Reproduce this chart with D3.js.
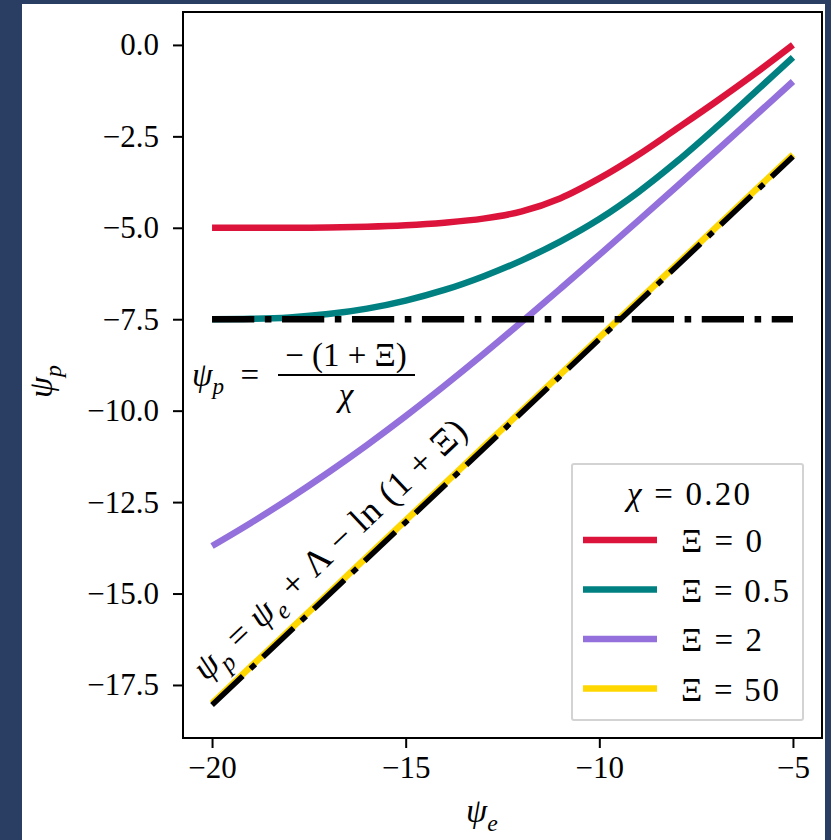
<!DOCTYPE html>
<html><head><meta charset="utf-8">
<script src="https://cdn.jsdelivr.net/npm/d3@7"></script>
<style>body{margin:0;background:#2a3d62;} svg{display:block;}</style>
</head><body>
<svg id="c" width="831" height="840"></svg>
<script>
// ---- data ----
const psiE = [-20,-19,-18,-17,-16,-15,-14,-13,-12,-11,-10,-9,-8,-7,-6,-5];
const xi0   = [-5.00,-5.00,-5.00,-4.99,-4.97,-4.93,-4.86,-4.75,-4.55,-4.19,-3.65,-3.01,-2.29,-1.56,-0.80,0.00];
const xi05  = [-7.50,-7.49,-7.45,-7.36,-7.21,-6.99,-6.70,-6.33,-5.89,-5.37,-4.76,-4.03,-3.19,-2.27,-1.31,-0.34];
const xi2   = [-13.70,-13.07,-12.40,-11.69,-10.94,-10.15,-9.32,-8.46,-7.57,-6.66,-5.74,-4.81,-3.87,-2.92,-1.96,-1.00];
const xi50  = [-18,-17,-16,-15,-14,-13,-12,-11,-10,-9,-8,-7,-6,-5,-4,-3];
const horizX = [-20,-5], horizY = [-7.5,-7.5];
const diagX = [-20,-5], diagY = [-18.05,-3.05];
const xTicks = [-20,-15,-10,-5];
const yTicks = [0,-2.5,-5,-7.5,-10,-12.5,-15,-17.5];
const legendLabels = ["0","0.5","2","50"];
const colors = ["#dc143c","#008080","#9370db","#ffd700"];
const series = [xi0, xi05, xi2, xi50];

const svg = d3.select("#c");
const FONT = "'Liberation Serif', 'DejaVu Serif', serif";
svg.append("rect").attr("x",22).attr("y",4).attr("width",803).attr("height",836).attr("fill","#ffffff");

const x = d3.scaleLinear().domain([-20.75,-4.25]).range([183,822]);
const y = d3.scaleLinear().domain([-18.95,0.9]).range([738,12]);

const fmtMinus = s => s.replace("-","\u2212");

// axes
const gx = svg.append("g").attr("transform","translate(0,738)")
  .call(d3.axisBottom(x).tickValues(xTicks).tickSize(10).tickPadding(8).tickFormat(d=>fmtMinus(String(d))));
const gy = svg.append("g").attr("transform","translate(183,0)")
  .call(d3.axisLeft(y).tickValues(yTicks).tickSize(10).tickPadding(14).tickFormat(d=>fmtMinus(d3.format(".1f")(d))));
[gx,gy].forEach(g=>{
  g.select(".domain").remove();
  g.selectAll(".tick line").attr("stroke","#000").attr("stroke-width",2);
  g.selectAll(".tick text").attr("font-family",FONT).attr("font-size",31).attr("fill","#000");
});

// rich text helper
function rich(parent, segs, size, attrs){
  const t = parent.append("text").attr("font-family",FONT).attr("font-size",size).attr("fill","#000");
  Object.entries(attrs||{}).forEach(([k,v])=>t.attr(k,v));
  let shift = 0;
  segs.forEach(s=>{
    const ts = t.append("tspan").text(s.t);
    if (s.i) ts.attr("font-style","italic");
    const target = s.sub ? size*0.25 : 0;
    if (target !== shift){ ts.attr("dy", target-shift); shift = target; }
    if (s.sub) ts.attr("font-size", size*0.7);
  });
  return t;
}

svg.append("clipPath").attr("id","clp").append("rect")
  .attr("x",183).attr("y",12).attr("width",639).attr("height",726);
const plot = svg.append("g").attr("clip-path","url(#clp)");

const line = d3.line().x(d=>x(d[0])).y(d=>y(d[1])).curve(d3.curveCatmullRom.alpha(0.5));

series.forEach((s,i)=>{
  plot.append("path").datum(psiE.map((e,j)=>[e,s[j]]))
    .attr("d",line).attr("fill","none").attr("stroke",colors[i]).attr("stroke-width",6.5);
});

const dashLw = 6.6;
const dashArr = [6.4,1.6,1,1.6].map(v=>v*dashLw).join(",");
plot.append("path").datum(horizX.map((e,j)=>[e,horizY[j]]))
  .attr("d",d3.line().x(d=>x(d[0])).y(d=>y(d[1]))).attr("fill","none")
  .attr("stroke","#000").attr("stroke-width",dashLw).attr("stroke-dasharray",dashArr);
plot.append("path").datum(diagX.map((e,j)=>[e,diagY[j]]))
  .attr("d",d3.line().x(d=>x(d[0])).y(d=>y(d[1]))).attr("fill","none")
  .attr("stroke","#000").attr("stroke-width",5.5).attr("stroke-dasharray",dashArr);

// frame
svg.append("rect").attr("x",183).attr("y",12).attr("width",639).attr("height",726)
  .attr("fill","none").attr("stroke","#000").attr("stroke-width",2);

// axis labels
rich(svg,[{t:"ψ",i:1},{t:"e",i:1,sub:1}],34,{x:466,y:822});
rich(svg,[{t:"ψ",i:1},{t:"p",i:1,sub:1}],34,{transform:"translate(52,398) rotate(-90)"});

// annotation: fraction
rich(svg,[{t:"ψ",i:1},{t:"p",i:1,sub:1},{t:"  = "}],33,{x:192,y:386,"xml:space":"preserve"});
svg.append("text").attr("font-family",FONT).attr("font-size",33).attr("x",346).attr("y",366)
  .attr("text-anchor","middle").text("\u2212 (1 + Ξ)");
svg.append("line").attr("x1",278).attr("x2",415).attr("y1",375).attr("y2",375).attr("stroke","#000").attr("stroke-width",1.8);
svg.append("text").attr("font-family",FONT).attr("font-size",33).attr("font-style","italic")
  .attr("x",346).attr("y",406).attr("text-anchor","middle").text("χ");

// annotation: rotated
const ang = Math.atan((y(-10)-y(-5))/(x(-5)-x(-10)))*180/Math.PI;
rich(svg,[{t:"ψ",i:1},{t:"p",i:1,sub:1},{t:" = "},{t:"ψ",i:1},{t:"e",i:1,sub:1},{t:" + Λ − ln (1 + Ξ)"}],36,
  {transform:`translate(206,682) rotate(${-ang})`, textLength:362, lengthAdjust:"spacing"});

// legend
const lg = svg.append("g");
lg.append("rect").attr("x",572).attr("y",464).attr("width",231).attr("height",256)
  .attr("fill","#fff").attr("stroke","#d3d3d3").attr("stroke-width",2).attr("rx",2);
rich(lg,[{t:"χ",i:1},{t:" = 0.20"}],33,{x:627,y:505,textLength:123,lengthAdjust:"spacing"});
legendLabels.forEach((lab,i)=>{
  const yy = 540 + i*49.5;
  lg.append("line").attr("x1",583).attr("x2",657).attr("y1",yy).attr("y2",yy)
    .attr("stroke",colors[i]).attr("stroke-width",6.5);
  lg.append("text").attr("font-family",FONT).attr("font-size",33).attr("x",681).attr("y",yy+12)
    .attr("textLength", [81,108,81,98][i]).attr("lengthAdjust","spacing")
    .text("Ξ = "+lab);
});
</script>
</body></html>
